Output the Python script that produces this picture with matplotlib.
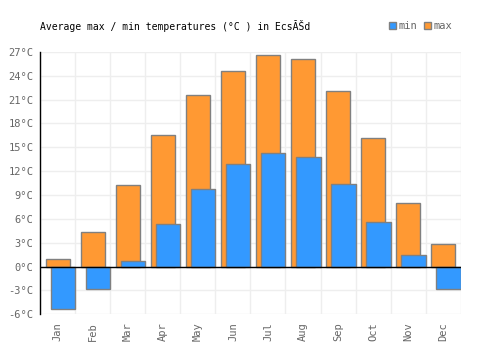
import matplotlib
matplotlib.use('Agg')
import matplotlib.pyplot as plt
import numpy as np
from matplotlib.patches import Patch

months = ['Jan', 'Feb', 'Mar', 'Apr', 'May', 'Jun', 'Jul', 'Aug', 'Sep', 'Oct', 'Nov', 'Dec']
t_max = [0.9, 4.4, 10.2, 16.6, 21.6, 24.6, 26.6, 26.1, 22.1, 16.2, 8.0, 2.8]
t_min = [-5.3, -2.8, 0.7, 5.3, 9.8, 12.9, 14.3, 13.8, 10.4, 5.6, 1.5, -2.8]
y_ticks = [-6, -3, 0, 3, 6, 9, 12, 15, 18, 21, 24, 27]

orange = '#ff9933'
blue = '#3399ff'
edge = '#808080'
grey_text = '#666666'
mono = 'DejaVu Sans Mono'

fig = plt.figure(figsize=(5, 3.5), dpi=100)
ax = fig.add_axes([0.0806, 0.102, 0.8406, 0.750])

x = np.arange(len(months))
ax.bar(x + 0.16, t_max, width=0.68, align='edge', color=orange,
       edgecolor=edge, linewidth=1, zorder=2)
ax.bar(x + 0.31, t_min, width=0.69, align='edge', color=blue,
       edgecolor=edge, linewidth=1, zorder=3)

ax.set_xlim(0, 12)
ax.set_ylim(-6, 27)
ax.set_yticks(y_ticks)
ax.set_yticklabels([f'{v}°C' for v in y_ticks], fontsize=7.5,
                   color=grey_text, family=mono)
ax.set_xticks(np.arange(13), minor=False)
ax.set_xticklabels([])
ax.set_xticks(x + 0.5, minor=True)
ax.set_xticklabels(months, minor=True, rotation=90, fontsize=7.5,
                   color=grey_text, family=mono)
ax.tick_params(axis='both', which='both', length=0)
ax.tick_params(axis='x', which='minor', pad=6)
ax.tick_params(axis='y', pad=5)

ax.grid(True, which='major', color='#eeeeee', linewidth=1, zorder=0)
for s in ['top', 'right', 'bottom']:
    ax.spines[s].set_visible(False)
ax.spines['left'].set_color('black')
ax.spines['left'].set_linewidth(1)
ax.axhline(0, color='black', linewidth=1, zorder=4)

fig.text(0.08, 0.925, 'Average max / min temperatures (°C ) in EcsĂŠd',
         fontsize=7, family=mono, color='black', va='center', ha='left')

handles = [Patch(facecolor=blue, edgecolor=edge, label='min'),
           Patch(facecolor=orange, edgecolor=edge, label='max')]
leg = fig.legend(handles=handles, loc='center right', bbox_to_anchor=(0.915, 0.925),
                 ncol=2, frameon=False, handlelength=0.7, handleheight=0.7,
                 handletextpad=0.2, columnspacing=0.7, borderpad=0,
                 prop={'family': mono, 'size': 7.5})
for t in leg.get_texts():
    t.set_color(grey_text)

fig.savefig('out.png', dpi=100, facecolor='white')
